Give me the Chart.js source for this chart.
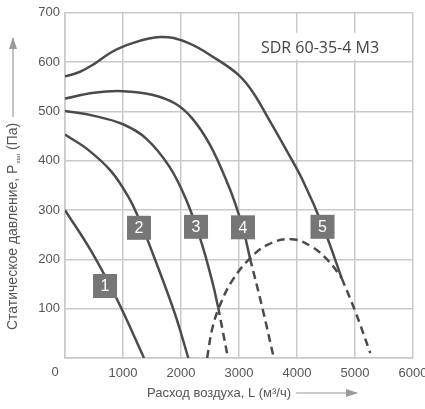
<!DOCTYPE html>
<html>
<head>
<meta charset="utf-8">
<title>SDR 60-35-4 M3</title>
<script src="https://cdn.jsdelivr.net/npm/chart.js@4.4.1/dist/chart.umd.min.js"></script>
<style>
  html, body { margin: 0; padding: 0; background: #fff; }
  canvas { display: block; }
</style>
</head>
<body>
<canvas id="fanChart" width="425" height="409"></canvas>
<script>
// Axis ticks
const flowTicks = [0, 1000, 2000, 3000, 4000, 5000, 6000];
const pressureTicks = [0, 100, 200, 300, 400, 500, 600, 700];

// Fan curves, air flow (m3/h) and static pressure (Pa)
const flow1 = [0, 450, 900, 1362];
const pres1 = [300, 217, 118, 0];

const flow2 = [0, 400, 800, 1100, 1300, 1600, 1900, 2126];
const pres2 = [453, 422, 378, 325, 275, 185, 88, 0];

const flow3 = [0, 500, 1000, 1400, 1800, 2100, 2350, 2550, 2640];
const pres3 = [501, 491, 474, 445, 388, 318, 235, 150, 103];
const flow3Tail = [2640, 2720, 2810];
const pres3Tail = [103, 55, 0];

const flow4 = [0, 500, 1000, 1500, 1900, 2200, 2500, 2800, 2950, 3080, 3190];
const pres4 = [526, 538, 541, 534, 516, 485, 432, 355, 308, 258, 202];
const flow4Tail = [3190, 3400, 3600];
const pres4Tail = [202, 103, 0];

const flow5 = [0, 250, 500, 800, 1100, 1640, 2100, 2600, 3000, 3250, 3500, 3800, 4100, 4450, 4770];
const pres5 = [571, 580, 596, 620, 636, 651, 640, 607, 573, 537, 487, 425, 360, 266, 162];
const flow5Tail = [4770, 5000, 5264];
const pres5Tail = [162, 96, 10];

// Dashed working range boundary
const flowLimit = [2450, 2550, 2700, 2900, 3190, 3500, 3900, 4250, 4550, 4770];
const presLimit = [0, 65, 115, 160, 202, 230, 241, 226, 196, 162];

// Curve number tags
const tagText = ['1', '2', '3', '4', '5'];
const tagFlow = [690, 1276, 2259, 3069, 4440];
const tagPres = [146, 264, 266, 265, 266];

const modelName = 'SDR 60-35-4 M3';
const lineColor = '#4b4b4b';
const gridColor = '#c9c9c9';

function points(xs, ys) {
    return xs.map((x, i) => ({ x: x, y: ys[i] }));
}

function curve(xs, ys, dashed) {
    return {
        data: points(xs, ys),
        borderColor: lineColor,
        borderWidth: 2.5,
        borderDash: dashed ? [8, 5] : [],
        pointRadius: 0,
        fill: false,
        tension: 0.4
    };
}

// Draws tags, model name, axis titles with arrows
const overlayPlugin = {
    id: 'overlay',
    afterDraw(chart) {
        const ctx = chart.ctx;
        const area = chart.chartArea;
        const xs = chart.scales.x;
        const ys = chart.scales.y;
        ctx.save();

        // number tags
        tagText.forEach((t, i) => {
            const cx = xs.getPixelForValue(tagFlow[i]);
            const cy = ys.getPixelForValue(tagPres[i]);
            ctx.fillStyle = '#767676';
            ctx.fillRect(cx - 12, cy - 12, 24, 24);
            ctx.fillStyle = '#fff';
            ctx.font = '16px "Liberation Sans", Arial, sans-serif';
            ctx.textAlign = 'center';
            ctx.textBaseline = 'middle';
            ctx.fillText(t, cx, cy + 1);
        });

        // model name on white patch
        ctx.fillStyle = '#fff';
        ctx.fillRect(area.right - 156, area.top + 20, 130, 27);
        ctx.fillStyle = '#444';
        ctx.font = '16px "Open Sans", sans-serif';
        ctx.textAlign = 'center';
        ctx.textBaseline = 'middle';
        ctx.fillText(modelName, area.right - 93, area.top + 36);

        // origin label
        ctx.fillStyle = '#555';
        ctx.font = '13px "Liberation Sans", Arial, sans-serif';
        ctx.fillText('0', area.left - 10, area.bottom + 14);

        ctx.strokeStyle = '#9a9a9a';
        ctx.lineWidth = 1.2;

        // x title + arrow
        ctx.fillStyle = '#555';
        ctx.font = '13px "Liberation Sans", Arial, sans-serif';
        ctx.textAlign = 'left';
        const xt = 'Расход воздуха, L (м³/ч)';
        const tx = 147, ty = 393;
        ctx.fillText(xt, tx, ty);
        const xEnd = tx + ctx.measureText(xt).width;
        ctx.beginPath();
        ctx.moveTo(xEnd + 5, ty);
        ctx.lineTo(357, ty);
        ctx.stroke();
        ctx.fillStyle = '#9a9a9a';
        ctx.beginPath();
        ctx.moveTo(358, ty);
        ctx.lineTo(346, ty - 4);
        ctx.lineTo(346, ty + 4);
        ctx.closePath();
        ctx.fill();

        // y title + arrow (rotated)
        ctx.translate(13, 330);
        ctx.rotate(-Math.PI / 2);
        ctx.fillStyle = '#555';
        ctx.textAlign = 'left';
        ctx.font = '14px "Liberation Sans", Arial, sans-serif';
        let pos = 0;
        const part1 = 'Статическое давление, P';
        ctx.fillText(part1, pos, 0);
        pos += ctx.measureText(part1).width;
        ctx.font = '6px "Liberation Sans", Arial, sans-serif';
        ctx.fillText('stat', pos + 1, 5);
        pos += ctx.measureText('stat').width + 1;
        ctx.font = '14px "Liberation Sans", Arial, sans-serif';
        const part2 = ' (Па)';
        ctx.fillText(part2, pos, 0);
        pos += ctx.measureText(part2).width;
        ctx.beginPath();
        ctx.moveTo(pos + 6, 0);
        ctx.lineTo(292, 0);
        ctx.stroke();
        ctx.fillStyle = '#9a9a9a';
        ctx.beginPath();
        ctx.moveTo(293, 0);
        ctx.lineTo(281, -4);
        ctx.lineTo(281, 4);
        ctx.closePath();
        ctx.fill();

        ctx.restore();
    }
};

const chart = new Chart(document.getElementById('fanChart'), {
    type: 'line',
    data: {
        datasets: [
            curve(flow1, pres1, false),
            curve(flow2, pres2, false),
            curve(flow3, pres3, false),
            curve(flow3Tail, pres3Tail, true),
            curve(flow4, pres4, false),
            curve(flow4Tail, pres4Tail, true),
            curve(flow5, pres5, false),
            curve(flow5Tail, pres5Tail, true),
            curve(flowLimit, presLimit, true)
        ]
    },
    options: {
        responsive: false,
        animation: false,
        devicePixelRatio: 1,
        layout: { padding: { top: 11, right: 12, left: 0, bottom: 0 } },
        plugins: {
            legend: { display: false },
            tooltip: { enabled: false }
        },
        scales: {
            x: {
                type: 'linear',
                min: 0,
                max: 6000,
                afterBuildTicks: s => { s.ticks = flowTicks.map(v => ({ value: v })); },
                afterFit: s => { s.height = 51; s.paddingLeft = 0; s.paddingRight = 0; },
                grid: { color: gridColor, lineWidth: 1.5, drawTicks: false },
                border: { color: gridColor, width: 1.5 },
                ticks: {
                    color: '#555',
                    padding: 8,
                    maxRotation: 0,
                    font: { family: '"Liberation Sans", Arial, sans-serif', size: 13 },
                    callback: v => (v === 0 ? '' : v)
                }
            },
            y: {
                min: 0,
                max: 700,
                afterBuildTicks: s => { s.ticks = pressureTicks.map(v => ({ value: v })); },
                afterFit: s => { s.width = 65; },
                grid: { color: gridColor, lineWidth: 1.5, drawTicks: false },
                border: { color: gridColor, width: 1.5 },
                ticks: {
                    color: '#555',
                    padding: 5,
                    font: { family: '"Liberation Sans", Arial, sans-serif', size: 13 },
                    callback: v => (v === 0 ? '' : v)
                }
            }
        }
    },
    plugins: [overlayPlugin]
});
</script>
</body>
</html>
